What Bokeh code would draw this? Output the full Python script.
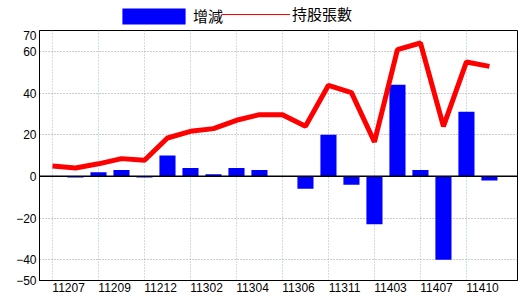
from bokeh.plotting import figure
from bokeh.layouts import column
from bokeh.models import (Range1d, FixedTicker, Span, Legend, LegendItem, ColumnDataSource)
from bokeh.embed import file_html
from bokeh.resources import INLINE

# data
x_idx = list(range(20))
change = [0, -0.5, 2, 3, -0.5, 10, 4, 1, 4, 3, 0, -6, 20, -4, -23, 44, 3, -40, 31, -2]
holdings = [5, 4, 6, 8.5, 7.7, 18.4, 21.6, 22.9, 26.9, 29.6, 29.6, 24, 43.7, 40.2, 16.5, 60.8, 64, 24, 54.9, 52.8]
tick_labels = ["11207", "11209", "11212", "11302", "11304", "11306", "11311", "11403", "11407", "11410"]
tick_idx = [0, 2, 4, 6, 8, 10, 12, 14, 16, 18]
y_ticks = [-50, -40, -20, 0, 20, 40, 60, 70]

src = ColumnDataSource(dict(x=x_idx, change=change, holdings=holdings))

BAR_COLOR = "#0000ff"
LINE_COLOR = "#ff0000"

p = figure(width=520, height=270, output_backend="svg", toolbar_location=None,
           x_range=Range1d(-0.565, 20.22), y_range=Range1d(-50, 70),
           min_border_left=39, min_border_right=3, min_border_top=0, min_border_bottom=20)
p.outline_line_color = "black"
p.outline_line_width = 1
p.background_fill_color = "white"
p.border_fill_color = "white"

bars = p.vbar(x="x", top="change", width=0.7, bottom=0, source=src,
              fill_color=BAR_COLOR, line_color=None)
line = p.line(x="x", y="holdings", source=src, line_color=LINE_COLOR, line_width=5)

# zero line
p.add_layout(Span(location=0, dimension="width", line_color="black", line_width=1.5))

# axes
xa = p.xaxis[0]
xa.ticker = FixedTicker(ticks=[t + 0.7 for t in tick_idx])
xa.major_label_overrides = {t + 0.7: lab for t, lab in zip(tick_idx, tick_labels)}
ya = p.yaxis[0]
ya.ticker = FixedTicker(ticks=y_ticks)
for ax in (xa, ya):
    ax.major_tick_out = 0
    ax.major_tick_in = 0
    ax.minor_tick_out = 0
    ax.minor_tick_in = 0
    ax.axis_line_color = "black"
    ax.major_label_text_font = "Liberation Sans"
    ax.major_label_text_font_size = "12px"
    ax.major_label_text_color = "black"
xa.major_label_standoff = 2
ya.major_label_standoff = 3

# grids
p.xgrid.ticker = FixedTicker(ticks=tick_idx)
p.xgrid.grid_line_color = "#9bbccc"
p.xgrid.grid_line_dash = "1 2"
p.ygrid.ticker = FixedTicker(ticks=[-40, -20, 20, 40, 60])
p.ygrid.grid_line_color = "#999999"
p.ygrid.grid_line_dash = "1 2"

# header figure holding the legend (proxy renderers sit outside the visible range)
h = figure(width=520, height=30, output_backend="svg", toolbar_location=None,
           x_range=Range1d(0, 1), y_range=Range1d(0, 1),
           x_axis_location=None, y_axis_location=None,
           min_border_left=0, min_border_right=0, min_border_top=0, min_border_bottom=0)
h.grid.visible = False
h.outline_line_color = None
h.border_fill_color = "white"
h_bar = h.vbar(x=[-10], top=[-10], width=0.5, fill_color=BAR_COLOR, line_color=None)
h_line = h.line(x=[-10, -9], y=[-10, -10], line_color=LINE_COLOR, line_width=1)

common = dict(orientation="horizontal", padding=0, margin=0, spacing=0,
              label_text_font="Noto Sans CJK TC", label_text_font_size="15px",
              label_text_color="black",
              border_line_color=None, background_fill_alpha=0)
legend_a = Legend(items=[LegendItem(label="增減", renderers=[h_bar])],
                  location=(75, 4), glyph_width=79, glyph_height=20,
                  label_height=20, label_standoff=0, **common)
legend_b = Legend(items=[LegendItem(label="持股張數", renderers=[h_line])],
                  location=(182, 6), glyph_width=69, glyph_height=16,
                  label_height=16, label_standoff=2, **common)
h.add_layout(legend_a)
h.add_layout(legend_b)

layout = column(h, p, spacing=0)
open("out.html", "w").write(file_html(layout, INLINE))
